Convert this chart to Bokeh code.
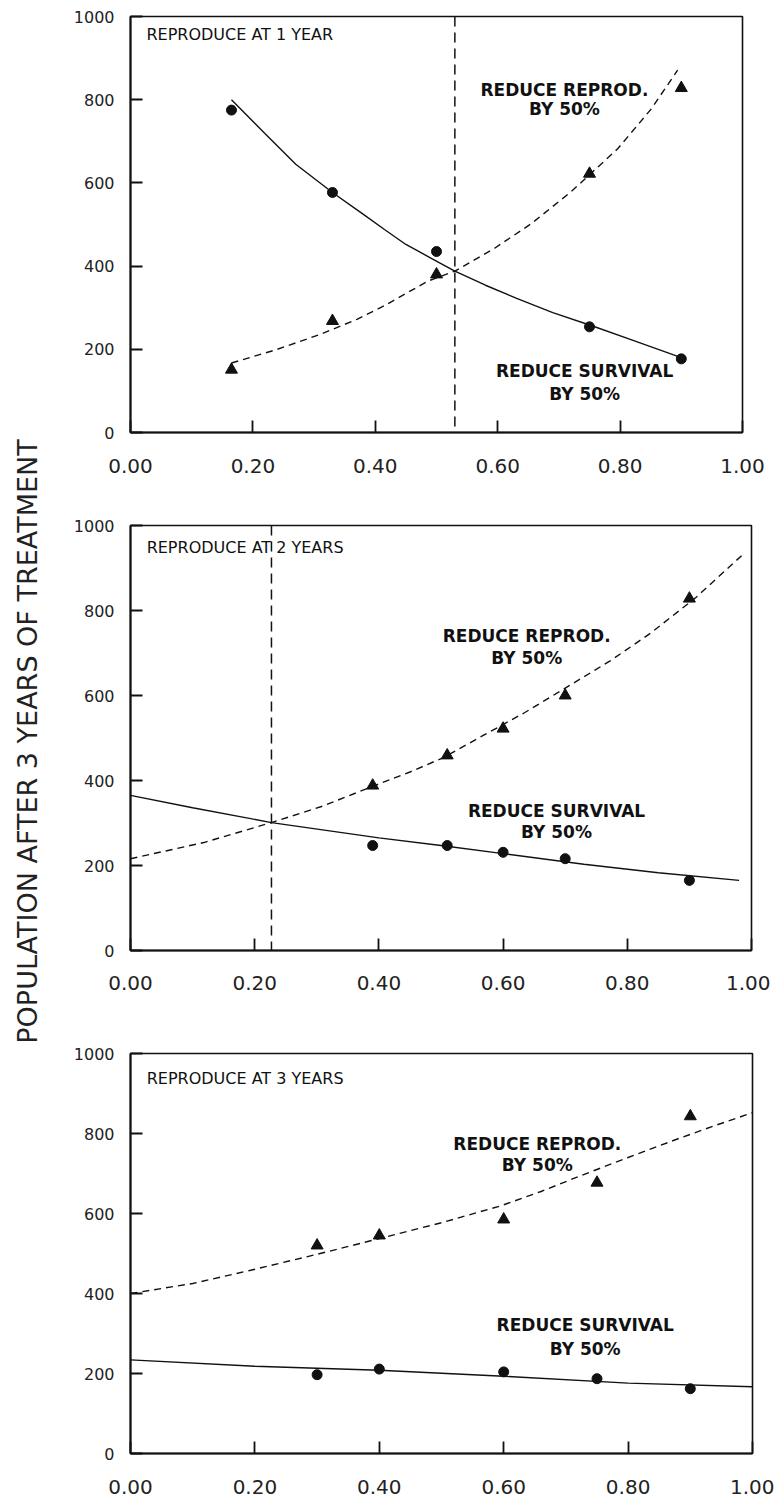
import math
from bokeh.plotting import figure
from bokeh.layouts import row, column
from bokeh.models import Label, FixedTicker, NumeralTickFormatter, Range1d, Span
from bokeh.embed import file_html
from bokeh.resources import INLINE

# ---------------- data ----------------
x_ticks = [0.0, 0.2, 0.4, 0.6, 0.8, 1.0]
y_ticks = [0, 200, 400, 600, 800, 1000]
y_label_text = "POPULATION AFTER 3 YEARS OF TREATMENT"

# Panel 1: reproduce at 1 year
p1_title = "REPRODUCE AT 1 YEAR"
p1_pts_x = [0.165, 0.33, 0.50, 0.75, 0.90]
p1_surv_pts = [775, 577, 435, 254, 177]
p1_repr_pts = [151, 268, 380, 622, 828]
p1_surv_curve_x = [0.165, 0.22, 0.27, 0.33, 0.38, 0.415, 0.45, 0.49, 0.53, 0.58, 0.63, 0.69, 0.755, 0.82, 0.90]
p1_surv_curve_y = [800, 718, 645, 577, 525, 488, 452, 420, 388, 354, 323, 288, 256, 222, 180]
p1_repr_curve_x = [0.165, 0.24, 0.312, 0.37, 0.415, 0.486, 0.53, 0.595, 0.655, 0.72, 0.796, 0.851, 0.894]
p1_repr_curve_y = [167, 200, 237, 272, 305, 364, 388, 443, 502, 579, 682, 778, 871]
p1_cross = 0.53

# Panel 2: reproduce at 2 years
p2_title = "REPRODUCE AT 2 YEARS"
p2_pts_x = [0.39, 0.51, 0.60, 0.70, 0.90]
p2_surv_pts = [247, 247, 231, 216, 165]
p2_repr_pts = [388, 459, 522, 600, 828]
p2_surv_curve_x = [0.0, 0.1, 0.227, 0.4, 0.5, 0.6, 0.73, 0.85, 0.98]
p2_surv_curve_y = [365, 336, 301, 265, 247, 228, 203, 183, 165]
p2_repr_curve_x = [0.0, 0.118, 0.227, 0.31, 0.386, 0.45, 0.504, 0.568, 0.635, 0.702, 0.773, 0.837, 0.91, 0.984]
p2_repr_curve_y = [216, 254, 301, 340, 384, 420, 454, 506, 560, 619, 682, 746, 830, 929]
p2_cross = 0.227

# Panel 3: reproduce at 3 years
p3_title = "REPRODUCE AT 3 YEARS"
p3_pts_x = [0.30, 0.40, 0.60, 0.75, 0.90]
p3_surv_pts = [197, 211, 204, 187, 162]
p3_repr_pts = [520, 545, 585, 677, 843]
p3_surv_curve_x = [0.0, 0.2, 0.4, 0.6, 0.8, 1.0]
p3_surv_curve_y = [234, 218, 208, 193, 176, 167]
p3_repr_curve_x = [0.0, 0.1, 0.193, 0.30, 0.402, 0.5, 0.595, 0.66, 0.723, 0.80, 0.884, 0.94, 1.0]
p3_repr_curve_y = [400, 425, 458, 498, 538, 577, 619, 655, 694, 740, 789, 820, 852]

# annotation texts and their positions (data coords: x, y line 1, y line 2)
repr_text = ["REDUCE REPROD.", "BY 50%"]
surv_text = ["REDUCE SURVIVAL", "BY 50%"]
p1_repr_lab = (0.709, 823, 778)
p1_surv_lab = (0.742, 148, 93)
p2_repr_lab = (0.638, 741, 689)
p2_surv_lab = (0.686, 329, 278)
p3_repr_lab = (0.654, 774, 721)
p3_surv_lab = (0.731, 321, 261)
p1_title_y = 957
p2_title_y = 948
p3_title_y = 938

FONT = "DejaVu Sans"
INK = "#111111"


def make_panel(title, title_y, pts_x, surv_pts, repr_pts, scx, scy, rcx, rcy, cross,
               repr_lab, surv_lab, fw, fh, bl, br, bt, bb, standoff):
    p = figure(frame_width=fw, frame_height=fh, min_border_left=bl, min_border_right=br,
               min_border_top=bt, min_border_bottom=bb,
               x_range=Range1d(0, 1), y_range=Range1d(0, 1000),
               toolbar_location=None, output_backend="svg")
    p.grid.visible = False
    p.outline_line_color = INK
    p.outline_line_width = 1.6
    p.background_fill_color = "white"
    p.border_fill_color = "white"

    p.xaxis.ticker = FixedTicker(ticks=x_ticks)
    p.xaxis.formatter = NumeralTickFormatter(format="0.00")
    p.yaxis.ticker = FixedTicker(ticks=y_ticks)
    for ax in (p.xaxis[0], p.yaxis[0]):
        ax.axis_line_color = INK
        ax.axis_line_width = 2
        ax.major_tick_line_color = INK
        ax.major_tick_line_width = 1.8
        ax.major_tick_in = 12
        ax.major_tick_out = 0
        ax.minor_tick_line_color = None
        ax.major_label_text_font = FONT
        ax.major_label_text_color = "#222222"
    p.xaxis.major_label_text_font_size = "20px"
    p.xaxis.major_label_standoff = standoff
    p.yaxis.major_label_text_font_size = "16px"
    p.yaxis.major_label_standoff = 16

    if cross is not None:
        p.add_layout(Span(location=cross, dimension="height", line_color=INK,
                          line_width=1.5, line_dash="10 6"))

    p.line(scx, scy, line_color=INK, line_width=1.4)
    p.line(rcx, rcy, line_color=INK, line_width=1.4, line_dash="7 5")
    p.scatter(pts_x, surv_pts, marker="circle", size=10, fill_color=INK, line_color=INK)
    p.scatter(pts_x, repr_pts, marker="triangle", size=12, fill_color=INK, line_color=INK)

    p.add_layout(Label(x=0.026, y=title_y, text=title, text_font=FONT,
                       text_font_size="16px", text_color=INK,
                       text_align="left", text_baseline="middle"))
    for (lx, ly1, ly2), texts in ((repr_lab, repr_text), (surv_lab, surv_text)):
        for ly, t in zip((ly1, ly2), texts):
            p.add_layout(Label(x=lx, y=ly, text=t, text_font=FONT, text_font_size="17px",
                               text_font_style="bold", text_color=INK,
                               text_align="center", text_baseline="middle"))
    return p


p1 = make_panel(p1_title, p1_title_y, p1_pts_x, p1_surv_pts, p1_repr_pts, p1_surv_curve_x,
                p1_surv_curve_y, p1_repr_curve_x, p1_repr_curve_y, p1_cross, p1_repr_lab,
                p1_surv_lab, fw=612, fh=416, bl=78, br=30, bt=16, bb=50, standoff=26)
p2 = make_panel(p2_title, p2_title_y, p2_pts_x, p2_surv_pts, p2_repr_pts, p2_surv_curve_x,
                p2_surv_curve_y, p2_repr_curve_x, p2_repr_curve_y, p2_cross, p2_repr_lab,
                p2_surv_lab, fw=621, fh=425, bl=79, br=22, bt=43, bb=50, standoff=25)
p3 = make_panel(p3_title, p3_title_y, p3_pts_x, p3_surv_pts, p3_repr_pts, p3_surv_curve_x,
                p3_surv_curve_y, p3_repr_curve_x, p3_repr_curve_y, None, p3_repr_lab,
                p3_surv_lab, fw=622, fh=400, bl=82, br=22, bt=53, bb=50, standoff=26)

total_h = 482 + 518 + 503
lab = figure(width=48, height=total_h, min_border=0, x_range=Range1d(0, 1), y_range=Range1d(0, 1),
             toolbar_location=None, output_backend="svg")
lab.axis.visible = False
lab.grid.visible = False
lab.outline_line_color = None
lab.scatter([0.5], [0.5], size=0, alpha=0)
lab.add_layout(Label(x=27, y=total_h - 741, x_units="screen", y_units="screen",
                     text=y_label_text, angle=math.pi / 2, text_font=FONT,
                     text_font_size="27px", text_color="#222222",
                     text_align="center", text_baseline="middle"))

layout = row(lab, column(p1, p2, p3))
open("out.html", "w").write(file_html(layout, INLINE))
